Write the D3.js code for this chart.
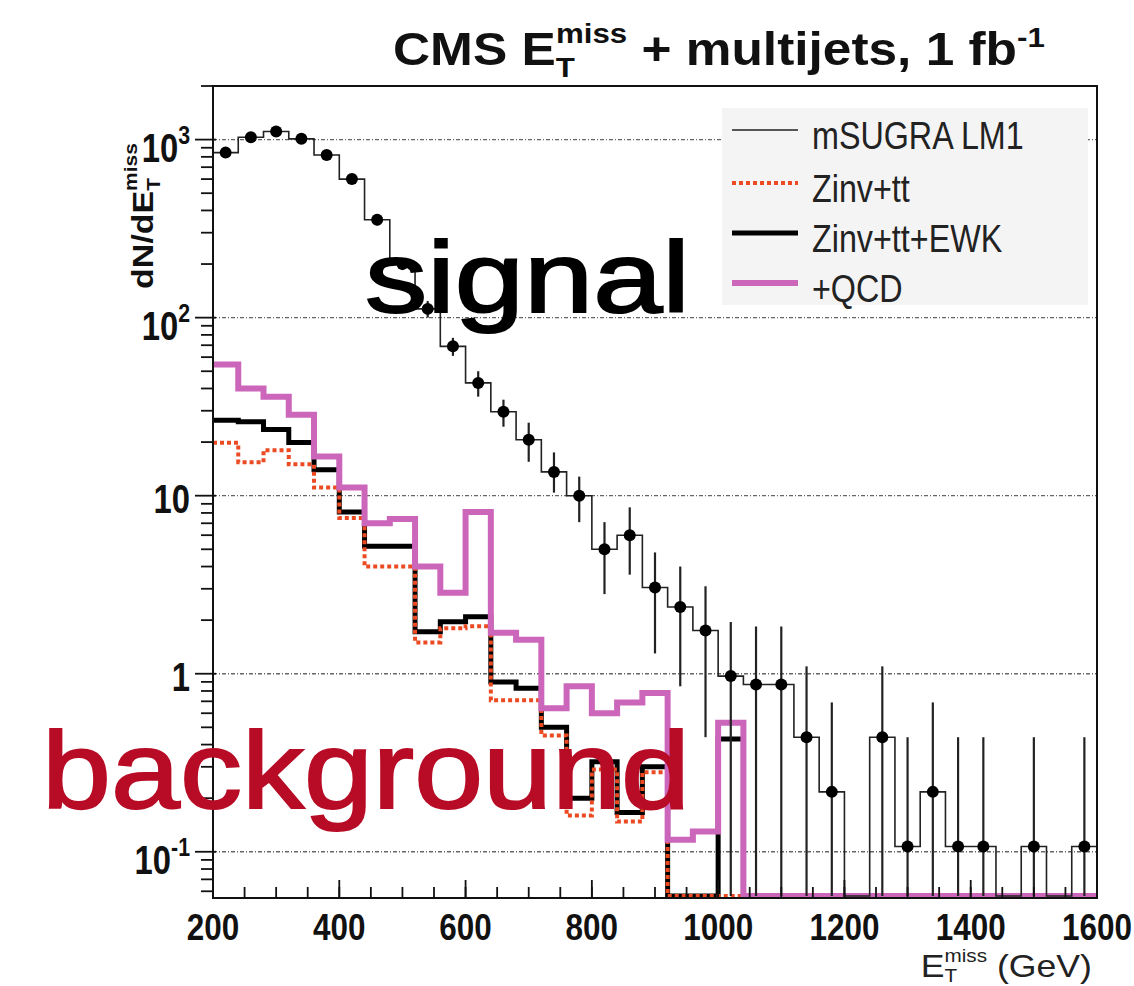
<!DOCTYPE html>
<html><head><meta charset="utf-8">
<script src="https://cdn.jsdelivr.net/npm/d3@7"></script>
<style>
body{margin:0;background:#fff;}
svg{display:block;font-family:"Liberation Sans",Arial,Helvetica,sans-serif;}
</style>
</head><body>
<svg id="c" width="1134" height="986"></svg>
<script>
// ---------- data ----------
const binLow = [200,240,280,320,360,400,440,480,520,560,600,640,680,720,760,800,840,880,920,960,1000,1040,1080,1120,1160,1200,1240,1280,1320,1360,1400,1440,1480,1520,1560];
const binWidth = 40;
const signal   = [845,1030,1110,1010,820,600,355,200,112,69,43,29.6,20.6,13.6,10,5.0,6.0,3.05,2.37,1.75,0.97,0.87,0.87,0.44,0.217,0,0.44,0.107,0.217,0.107,0.107,0,0.107,0,0.107];
const signalLo = [800,985,1060,965,780,565,330,185,100,61,36,24.4,15.5,10.4,7.1,2.8,3.6,1.3,0.85,0.44,0,0,0,0,0,null,0,0,0,0,0,null,0,null,0];
const signalHi = [890,1075,1160,1055,860,635,380,215,124,77,50,34.6,25.7,17.5,12.8,7.1,8.6,4.8,4.0,3.1,1.95,1.84,1.84,1.1,0.69,null,1.1,0.44,0.69,0.44,0.44,null,0.44,null,0.44];
const zinvTT    = [19.8,15.4,18,15,11.1,7.5,4.0,4.0,1.5,1.8,1.85,0.71,0.71,0.45,0.16,0.29,0.148,0.28,0,0,0,0,0,0,0,0,0,0,0,0,0,0,0,0,0];
const zinvTTEWK = [26.5,26,23.5,19.9,14,8.1,5.2,5.2,1.72,1.96,2.09,0.90,0.83,0.50,0.20,0.32,0.166,0.30,0,0,0.43,0,0,0,0,0,0,0,0,0,0,0,0,0,0];
const plusQCD   = [54.5,40,36,28.5,16.6,11.1,7.0,7.4,4.0,2.85,8.1,1.70,1.55,0.64,0.85,0.60,0.69,0.78,0.117,0.13,0.53,0,0,0,0,0,0,0,0,0,0,0,0,0,0];
const xTicks = [200,400,600,800,1000,1200,1400,1600];
const xMinorStep = 50;
const yTicks = [0.1,1,10,100,1000];
const yTickLabels = [["10","-1"],["1",""],["10",""],["10","2"],["10","3"]];
const legendItems = ["mSUGRA LM1","Zinv+tt","Zinv+tt+EWK","+QCD"];

// ---------- setup ----------
const svg = d3.select("#c");
const x = d3.scaleLinear().domain([200,1600]).range([213,1097]);
const y = d3.scaleLog().domain([0.055,2000]).range([898,86]);
const yFloor = y.range()[0] - 2;
const yv = v => (v > 0 ? y(v) : yFloor);

const COL_RED = "#ec4a22", COL_PINK = "#cc66bb", COL_BG = "#b80c26";

function stepPath(vals){
  const pts = binLow.map((b,i)=>[x(b), yv(vals[i])]);
  pts.push([x(binLow[binLow.length-1]+binWidth), yv(vals[vals.length-1])]);
  return d3.line().curve(d3.curveStepAfter)(pts);
}

// ---------- gridlines ----------
svg.append("g").selectAll("line").data(yTicks).join("line")
  .attr("x1", x(200)).attr("x2", x(1600))
  .attr("y1", d=>y(d)).attr("y2", d=>y(d))
  .attr("stroke","#666").attr("stroke-width",1.3)
  .attr("stroke-dasharray","4,2,1,2");

// ---------- legend box ----------
const leg = svg.append("g");
leg.append("rect").attr("x",722).attr("y",108).attr("width",366).attr("height",197)
  .attr("fill","#f4f4f4");

// ---------- histograms ----------
svg.append("path").attr("d", stepPath(zinvTTEWK)).attr("fill","none")
  .attr("stroke","#000").attr("stroke-width",5);
svg.append("path").attr("d", stepPath(zinvTT)).attr("fill","none")
  .attr("stroke",COL_RED).attr("stroke-width",4).attr("stroke-dasharray","4,3");
svg.append("path").attr("d", stepPath(plusQCD)).attr("fill","none")
  .attr("stroke",COL_PINK).attr("stroke-width",6);
svg.append("path").attr("d", stepPath(signal)).attr("fill","none")
  .attr("stroke","#222").attr("stroke-width",1.6);

// ---------- signal points ----------
const pts = binLow.map((b,i)=>({c:b+binWidth/2, v:signal[i], lo:signalLo[i], hi:signalHi[i]}))
  .filter(d=>d.v>0);
svg.append("g").selectAll("line").data(pts).join("line")
  .attr("x1",d=>x(d.c)).attr("x2",d=>x(d.c))
  .attr("y1",d=>yv(d.lo)).attr("y2",d=>yv(d.hi))
  .attr("stroke","#222").attr("stroke-width",2.2);
svg.append("g").selectAll("circle").data(pts).join("circle")
  .attr("cx",d=>x(d.c)).attr("cy",d=>y(d.v)).attr("r",6).attr("fill","#000");

// ---------- frame & axes ----------
svg.append("rect").attr("x",x(200)).attr("y",y.range()[1])
  .attr("width",x(1600)-x(200)).attr("height",y.range()[0]-y.range()[1])
  .attr("fill","none").attr("stroke","#111").attr("stroke-width",2);

// y ticks (outside, left)
const yMinor = [];
for (let e=-2;e<=3;e++) for (let m=2;m<=9;m++){ const v=m*Math.pow(10,e); if(v>=0.055 && v<=2000) yMinor.push(v); }
svg.append("g").selectAll("line").data(yMinor).join("line")
  .attr("x1",x(200)-12).attr("x2",x(200)).attr("y1",d=>y(d)).attr("y2",d=>y(d))
  .attr("stroke","#111").attr("stroke-width",1.8);
svg.append("g").selectAll("line").data(yTicks).join("line")
  .attr("x1",x(200)-18).attr("x2",x(200)+3).attr("y1",d=>y(d)).attr("y2",d=>y(d))
  .attr("stroke","#111").attr("stroke-width",1.8);

// x ticks (inside, up)
const xMinor = d3.range(200,1601,xMinorStep);
svg.append("g").selectAll("line").data(xMinor).join("line")
  .attr("x1",d=>x(d)).attr("x2",d=>x(d)).attr("y1",y.range()[0]).attr("y2",y.range()[0]-11)
  .attr("stroke","#111").attr("stroke-width",1.8);
svg.append("g").selectAll("line").data(xTicks).join("line")
  .attr("x1",d=>x(d)).attr("x2",d=>x(d)).attr("y1",y.range()[0]).attr("y2",y.range()[0]-18)
  .attr("stroke","#111").attr("stroke-width",1.8);

// ---------- text helpers ----------
function gtxt(tx, ty, sx){ return svg.append("g").attr("transform",`translate(${tx},${ty}) scale(${sx},1)`); }

// x tick labels
xTicks.forEach(t=>{
  gtxt(x(t), 940, 0.85).append("text").attr("text-anchor","middle")
    .attr("font-size",37).attr("font-weight","bold").attr("fill","#111").text(t);
});

// y tick labels
yTicks.forEach((t,i)=>{
  const [base, sup] = yTickLabels[i];
  const g = gtxt(190, y(t) + (sup ? 22 : 17), 0.82);
  const tx = g.append("text").attr("text-anchor","end").attr("font-weight","bold").attr("fill","#111");
  tx.append("tspan").attr("font-size",40).text(base);
  if (sup) tx.append("tspan").attr("font-size",26).attr("dy",-18).text(sup);
});

// x axis title
{
  const g = svg.append("g");
  const t = g.append("text").attr("text-anchor","end").attr("fill","#222").attr("font-size",31);
  t.append("tspan").text("E");
  t.append("tspan").attr("font-size",18).attr("dy",5).text("T");
  t.append("tspan").attr("font-size",18).attr("dx",-11).attr("dy",-20).text("miss");
  t.append("tspan").attr("dy",15).text(" (GeV)");
  const w = t.node().getBBox().width;
  g.attr("transform",`translate(1092,977) scale(${Math.min(1.15,(1092-895)/w)},1)`);
}

// y axis title
{
  const g = svg.append("g").attr("transform","translate(153,216) rotate(-90) scale(1,0.85)");
  const t = g.append("text").attr("text-anchor","middle").attr("font-weight","bold").attr("fill","#111").attr("font-size",34);
  t.append("tspan").text("dN/dE");
  t.append("tspan").attr("font-size",21).attr("dy",8).text("T");
  t.append("tspan").attr("font-size",21).attr("dx",-13).attr("dy",-27).text("miss");
}

// title
{
  const g = svg.append("g");
  const t = g.append("text").attr("font-weight","bold").attr("fill","#111").attr("font-size",46);
  t.append("tspan").text("CMS E");
  t.append("tspan").attr("font-size",28).attr("dy",12).text("T");
  t.append("tspan").attr("font-size",28).attr("dx",-17).attr("dy",-34).text("miss");
  t.append("tspan").attr("dy",22).text(" + multijets, 1 fb");
  t.append("tspan").attr("font-size",28).attr("dy",-18).text("-1");
  const w = t.node().getBBox().width;
  const sx = (1045-393)/w;
  g.attr("transform",`translate(393,65) scale(${sx},1)`);
}

// legend entries
const legY = [130,183,233,283];
const legStyles = [
  {stroke:"#222", w:1.6, dash:null},
  {stroke:COL_RED, w:4, dash:"4,3"},
  {stroke:"#000", w:5, dash:null},
  {stroke:COL_PINK, w:6, dash:null}
];
legendItems.forEach((name,i)=>{
  const s = legStyles[i];
  const l = leg.append("line").attr("x1",732).attr("x2",798).attr("y1",legY[i]).attr("y2",legY[i])
    .attr("stroke",s.stroke).attr("stroke-width",s.w);
  if (s.dash) l.attr("stroke-dasharray",s.dash);
  const g = leg.append("g").attr("transform",`translate(812,${legY[i]+19}) scale(0.85,1)`);
  g.append("text").attr("font-size",38).attr("fill","#222").text(name);
});

// big annotations
svg.append("text").attr("x",365).attr("y",312).attr("font-size",100).attr("fill","#000")
  .attr("stroke","#000").attr("stroke-width",2)
  .attr("textLength",325).attr("lengthAdjust","spacingAndGlyphs").text("signal");
svg.append("text").attr("x",42).attr("y",808).attr("font-size",110).attr("fill",COL_BG)
  .attr("stroke",COL_BG).attr("stroke-width",2)
  .attr("textLength",648).attr("lengthAdjust","spacingAndGlyphs").text("background");
</script>
</body></html>
